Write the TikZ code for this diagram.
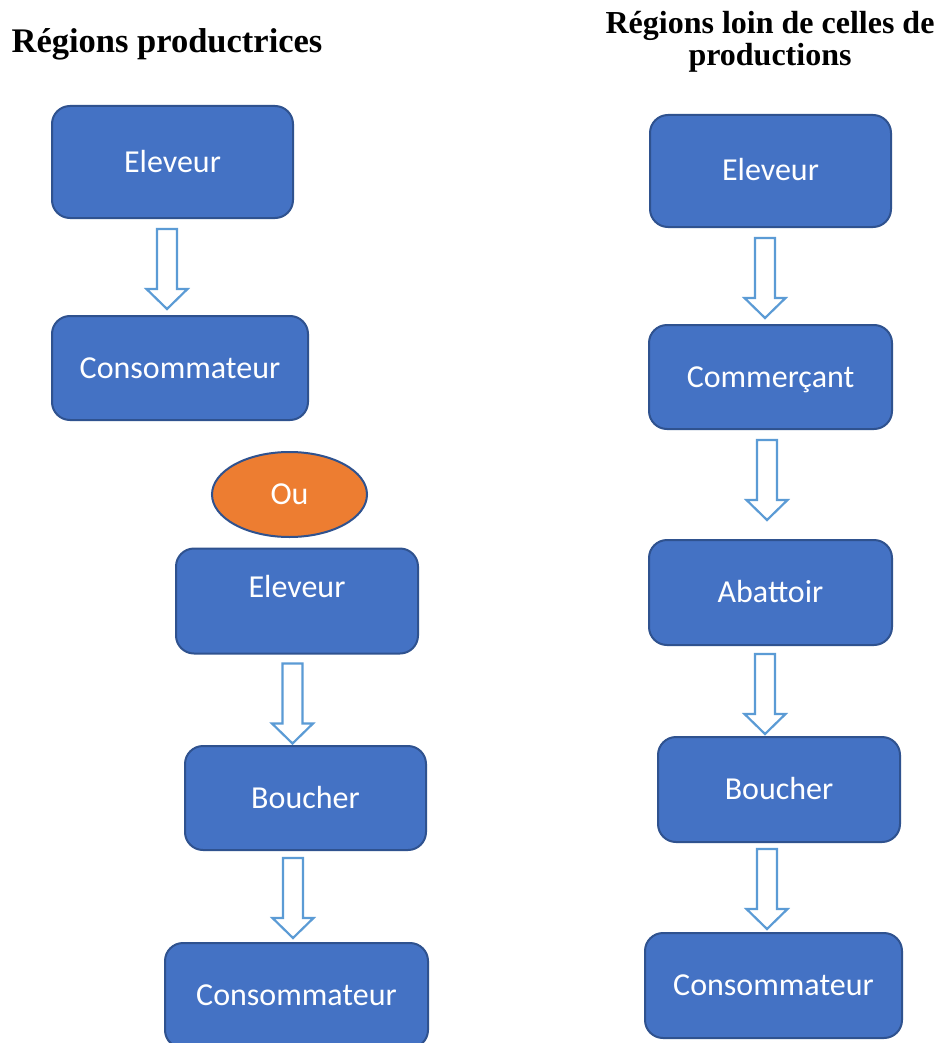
\documentclass[tikz,border=0pt]{standalone}
\usepackage{fontspec}
\setmainfont{Carlito}
\newfontfamily\titlefont{Liberation Serif}
\usetikzlibrary{calc,shapes.geometric}

\definecolor{boxfill}{HTML}{4472C4}
\definecolor{boxline}{HTML}{2F528F}
\definecolor{flowline}{HTML}{5B9BD5}
\definecolor{orangefill}{HTML}{ED7D31}

\tikzset{
  box/.style={draw=boxline, fill=boxfill, line width=2pt, rounded corners=18pt,
    text=white, font=\fontsize{32}{36}\selectfont, text height=20pt, text depth=0pt,
    inner sep=0pt},
  oval/.style={ellipse, draw=boxline, fill=orangefill, line width=2pt,
    text=white, font=\fontsize{32}{36}\selectfont, text height=20pt, text depth=0pt,
    inner sep=0pt},
  flow/.style={draw=flowline, fill=white, line width=2.2pt},
  heading/.style={text=black, inner sep=0pt}
}

% hollow block arrow hanging below a node: #1 node, #2 x offset, #3 gap below it
\newcommand\blockarrow[3]{%
  \draw[flow] let \p1=($(#1.south)+(#2,#3)$) in
    (\x1-10pt,\y1) -- (\x1+10pt,\y1) -- (\x1+10pt,\y1-60pt) -- (\x1+20.5pt,\y1-60pt)
    -- (\x1,\y1-80pt) -- (\x1-20.5pt,\y1-60pt) -- (\x1-10pt,\y1-60pt) -- cycle;}

\begin{document}
\begin{tikzpicture}[x=1pt, y=-1pt]
  \fill[white] (0,0) rectangle (937,1043);
  \useasboundingbox (0,0) rectangle (937,1043);

  % headings
  \node[heading, anchor=base, font=\titlefont\bfseries\fontsize{34.5}{36}\selectfont]
    (titleleft) at (167,53) {Régions productrices};
  \node[heading, anchor=base, align=center, font=\titlefont\bfseries\fontsize{32}{32}\selectfont]
    (titleright) at (770,66) {Régions loin de celles de\\productions};

  % left column: short chain
  \node[box, minimum width=241, minimum height=112] (e1) at (172.5,162) {Eleveur};
  \node[box, minimum width=256, minimum height=104] (c1) at (180,368) {Consommateur};
  \blockarrow{e1}{-5.5}{10}

  % alternative
  \node[oval, minimum width=155, minimum height=85] (ou) at (289.5,494.5) {Ou};

  % left column: chain through the butcher
  \node[box, minimum width=242, minimum height=105, text depth=28pt] (e2) at (297,601) {Eleveur};
  \node[box, minimum width=241, minimum height=104] (b1) at (305.5,798) {Boucher};
  \node[box, minimum width=263, minimum height=105] (c2) at (296.5,995.5) {Consommateur};
  \blockarrow{e2}{-4.5}{9}
  \blockarrow{b1}{-12.5}{7}

  % right column
  \node[box, minimum width=241, minimum height=112, text depth=-3pt] (e3) at (770.5,171) {Eleveur};
  \node[box, minimum width=243, minimum height=104, text depth=-3pt] (cm) at (770.5,377) {Commerçant};
  \node[box, minimum width=243, minimum height=105, text depth=-3pt] (ab) at (770.5,592.5) {Abattoir};
  \node[box, minimum width=242, minimum height=105, text depth=-3pt] (b2) at (779,789.5) {Boucher};
  \node[box, minimum width=257, minimum height=105, text depth=-3pt] (c3) at (773.5,985.5) {Consommateur};
  \blockarrow{e3}{-5.5}{10}
  \blockarrow{cm}{-3.5}{10}
  \blockarrow{ab}{-5.5}{8}
  \blockarrow{b2}{-12}{6}
\end{tikzpicture}
\end{document}
